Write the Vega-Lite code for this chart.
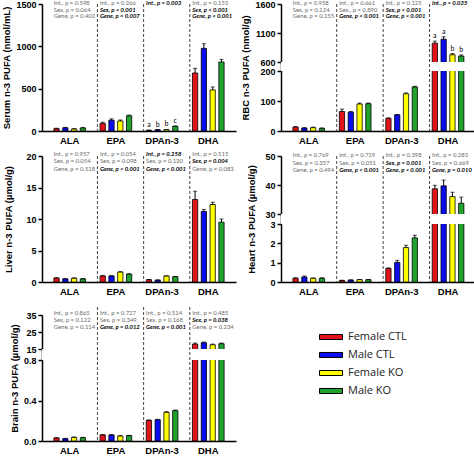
{
"$schema": "https://vega.github.io/schema/vega-lite/v6.json",
"padding": {"left": 1, "top": 0, "right": 0, "bottom": 0},
"datasets": {
"bars": [
{"p":"Serum","c":"ALA","g":"Female CTL","v":28,"hi":33},
{"p":"Serum","c":"ALA","g":"Male CTL","v":38,"hi":43},
{"p":"Serum","c":"ALA","g":"Female KO","v":24,"hi":28},
{"p":"Serum","c":"ALA","g":"Male KO","v":36,"hi":42},
{"p":"Serum","c":"EPA","g":"Female CTL","v":90,"hi":105},
{"p":"Serum","c":"EPA","g":"Male CTL","v":128,"hi":143},
{"p":"Serum","c":"EPA","g":"Female KO","v":118,"hi":130},
{"p":"Serum","c":"EPA","g":"Male KO","v":180,"hi":188},
{"p":"Serum","c":"DPAn-3","g":"Female CTL","v":8,"hi":10,"l":"a"},
{"p":"Serum","c":"DPAn-3","g":"Male CTL","v":15,"hi":17,"l":"b"},
{"p":"Serum","c":"DPAn-3","g":"Female KO","v":15,"hi":18,"l":"b"},
{"p":"Serum","c":"DPAn-3","g":"Male KO","v":55,"hi":60,"l":"c"},
{"p":"Serum","c":"DHA","g":"Female CTL","v":685,"hi":740},
{"p":"Serum","c":"DHA","g":"Male CTL","v":976,"hi":1031},
{"p":"Serum","c":"DHA","g":"Female KO","v":485,"hi":520},
{"p":"Serum","c":"DHA","g":"Male KO","v":815,"hi":846},
{"p":"RBC","c":"ALA","g":"Female CTL","v":13,"hi":15},
{"p":"RBC","c":"ALA","g":"Male CTL","v":10,"hi":11},
{"p":"RBC","c":"ALA","g":"Female KO","v":11,"hi":13},
{"p":"RBC","c":"ALA","g":"Male KO","v":9,"hi":10},
{"p":"RBC","c":"EPA","g":"Female CTL","v":65,"hi":73},
{"p":"RBC","c":"EPA","g":"Male CTL","v":63,"hi":65},
{"p":"RBC","c":"EPA","g":"Female KO","v":90,"hi":93},
{"p":"RBC","c":"EPA","g":"Male KO","v":91,"hi":93},
{"p":"RBC","c":"DPAn-3","g":"Female CTL","v":42,"hi":44},
{"p":"RBC","c":"DPAn-3","g":"Male CTL","v":54,"hi":55},
{"p":"RBC","c":"DPAn-3","g":"Female KO","v":124,"hi":127},
{"p":"RBC","c":"DPAn-3","g":"Male KO","v":147,"hi":149},
{"p":"RBC","c":"DHA","g":"Female CTL","v":924,"hi":960,"l":"a"},
{"p":"RBC","c":"DHA","g":"Male CTL","v":992,"hi":1035,"l":"a"},
{"p":"RBC","c":"DHA","g":"Female KO","v":725,"hi":745,"l":"b"},
{"p":"RBC","c":"DHA","g":"Male KO","v":702,"hi":722,"l":"b"},
{"p":"Liver","c":"ALA","g":"Female CTL","v":0.63,"hi":0.68},
{"p":"Liver","c":"ALA","g":"Male CTL","v":0.5,"hi":0.53},
{"p":"Liver","c":"ALA","g":"Female KO","v":0.6,"hi":0.65},
{"p":"Liver","c":"ALA","g":"Male KO","v":0.5,"hi":0.53},
{"p":"Liver","c":"EPA","g":"Female CTL","v":0.95,"hi":1.05},
{"p":"Liver","c":"EPA","g":"Male CTL","v":0.95,"hi":1.02},
{"p":"Liver","c":"EPA","g":"Female KO","v":1.58,"hi":1.63},
{"p":"Liver","c":"EPA","g":"Male KO","v":1.26,"hi":1.3},
{"p":"Liver","c":"DPAn-3","g":"Female CTL","v":0.37,"hi":0.4},
{"p":"Liver","c":"DPAn-3","g":"Male CTL","v":0.3,"hi":0.33},
{"p":"Liver","c":"DPAn-3","g":"Female KO","v":0.95,"hi":0.98},
{"p":"Liver","c":"DPAn-3","g":"Male KO","v":0.85,"hi":0.88},
{"p":"Liver","c":"DHA","g":"Female CTL","v":13.1,"hi":14.4},
{"p":"Liver","c":"DHA","g":"Male CTL","v":11.2,"hi":11.5},
{"p":"Liver","c":"DHA","g":"Female KO","v":12.3,"hi":12.65},
{"p":"Liver","c":"DHA","g":"Male KO","v":9.5,"hi":10.0},
{"p":"Heart","c":"ALA","g":"Female CTL","v":0.19,"hi":0.22},
{"p":"Heart","c":"ALA","g":"Male CTL","v":0.26,"hi":0.31},
{"p":"Heart","c":"ALA","g":"Female KO","v":0.19,"hi":0.21},
{"p":"Heart","c":"ALA","g":"Male KO","v":0.19,"hi":0.22},
{"p":"Heart","c":"EPA","g":"Female CTL","v":0.08,"hi":0.09},
{"p":"Heart","c":"EPA","g":"Male CTL","v":0.1,"hi":0.11},
{"p":"Heart","c":"EPA","g":"Female KO","v":0.12,"hi":0.13},
{"p":"Heart","c":"EPA","g":"Male KO","v":0.12,"hi":0.13},
{"p":"Heart","c":"DPAn-3","g":"Female CTL","v":0.7,"hi":0.73},
{"p":"Heart","c":"DPAn-3","g":"Male CTL","v":1.01,"hi":1.12},
{"p":"Heart","c":"DPAn-3","g":"Female KO","v":1.78,"hi":1.9},
{"p":"Heart","c":"DPAn-3","g":"Male KO","v":2.28,"hi":2.42},
{"p":"Heart","c":"DHA","g":"Female CTL","v":38.7,"hi":39.9},
{"p":"Heart","c":"DHA","g":"Male CTL","v":39.7,"hi":41.7},
{"p":"Heart","c":"DHA","g":"Female KO","v":36.0,"hi":37.5},
{"p":"Heart","c":"DHA","g":"Male KO","v":33.7,"hi":35.8},
{"p":"Brain","c":"ALA","g":"Female CTL","v":0.03,"hi":0.033},
{"p":"Brain","c":"ALA","g":"Male CTL","v":0.023,"hi":0.026},
{"p":"Brain","c":"ALA","g":"Female KO","v":0.036,"hi":0.039},
{"p":"Brain","c":"ALA","g":"Male KO","v":0.033,"hi":0.036},
{"p":"Brain","c":"EPA","g":"Female CTL","v":0.06,"hi":0.064},
{"p":"Brain","c":"EPA","g":"Male CTL","v":0.06,"hi":0.063},
{"p":"Brain","c":"EPA","g":"Female KO","v":0.05,"hi":0.053},
{"p":"Brain","c":"EPA","g":"Male KO","v":0.053,"hi":0.056},
{"p":"Brain","c":"DPAn-3","g":"Female CTL","v":0.204,"hi":0.208},
{"p":"Brain","c":"DPAn-3","g":"Male CTL","v":0.21,"hi":0.214},
{"p":"Brain","c":"DPAn-3","g":"Female KO","v":0.283,"hi":0.29},
{"p":"Brain","c":"DPAn-3","g":"Male KO","v":0.3,"hi":0.306},
{"p":"Brain","c":"DHA","g":"Female CTL","v":17.9,"hi":18.5},
{"p":"Brain","c":"DHA","g":"Male CTL","v":18.7,"hi":19.1},
{"p":"Brain","c":"DHA","g":"Female KO","v":17.5,"hi":17.9},
{"p":"Brain","c":"DHA","g":"Male KO","v":18.1,"hi":18.5}
],
"stats": [
{"p":"Serum","c":"ALA","line":0,"t":"Int., p = 0.598","sig":false},
{"p":"Serum","c":"ALA","line":1,"t":"Sex, p = 0.064","sig":false},
{"p":"Serum","c":"ALA","line":2,"t":"Gene, p = 0.402","sig":false},
{"p":"Serum","c":"EPA","line":0,"t":"Int., p = 0.266","sig":false},
{"p":"Serum","c":"EPA","line":1,"t":"Sex, p < 0.001","sig":true},
{"p":"Serum","c":"EPA","line":2,"t":"Gene, p = 0.007","sig":true},
{"p":"Serum","c":"DPAn-3","line":0,"t":"Int., p = 0.003","sig":true},
{"p":"Serum","c":"DHA","line":0,"t":"Int., p = 0.155","sig":false},
{"p":"Serum","c":"DHA","line":1,"t":"Sex, p < 0.001","sig":true},
{"p":"Serum","c":"DHA","line":2,"t":"Gene, p < 0.001","sig":true},
{"p":"RBC","c":"ALA","line":0,"t":"Int., p = 0.958","sig":false},
{"p":"RBC","c":"ALA","line":1,"t":"Sex, p = 0.124","sig":false},
{"p":"RBC","c":"ALA","line":2,"t":"Gene, p = 0.155","sig":false},
{"p":"RBC","c":"EPA","line":0,"t":"Int., p = 0.661","sig":false},
{"p":"RBC","c":"EPA","line":1,"t":"Sex., p = 0.890","sig":false},
{"p":"RBC","c":"EPA","line":2,"t":"Gene, p < 0.001","sig":true},
{"p":"RBC","c":"DPAn-3","line":0,"t":"Int., p = 0.125","sig":false},
{"p":"RBC","c":"DPAn-3","line":1,"t":"Sex, p < 0.001","sig":true},
{"p":"RBC","c":"DPAn-3","line":2,"t":"Gene, p < 0.001","sig":true},
{"p":"RBC","c":"DHA","line":0,"t":"Int., p = 0.035","sig":true},
{"p":"Liver","c":"ALA","line":0,"t":"Int., p = 0.957","sig":false},
{"p":"Liver","c":"ALA","line":1,"t":"Sex, p = 0.054","sig":false},
{"p":"Liver","c":"ALA","line":2,"t":"Gene, p = 0.518","sig":false},
{"p":"Liver","c":"EPA","line":0,"t":"Int., p = 0.054","sig":false},
{"p":"Liver","c":"EPA","line":1,"t":"Sex, p = 0.098","sig":false},
{"p":"Liver","c":"EPA","line":2,"t":"Gene, p < 0.001","sig":true},
{"p":"Liver","c":"DPAn-3","line":0,"t":"Int., p = 0.258","sig":true},
{"p":"Liver","c":"DPAn-3","line":1,"t":"Sex, p = 0.130","sig":false},
{"p":"Liver","c":"DPAn-3","line":2,"t":"Gene, p < 0.001","sig":true},
{"p":"Liver","c":"DHA","line":0,"t":"Int., p = 0.515","sig":false},
{"p":"Liver","c":"DHA","line":1,"t":"Sex, p = 0.004","sig":true},
{"p":"Liver","c":"DHA","line":2,"t":"Gene, p = 0.083","sig":false},
{"p":"Heart","c":"ALA","line":0,"t":"Int., p = 0.769","sig":false},
{"p":"Heart","c":"ALA","line":1,"t":"Sex, p = 0.357","sig":false},
{"p":"Heart","c":"ALA","line":2,"t":"Gene, p = 0.494","sig":false},
{"p":"Heart","c":"EPA","line":0,"t":"Int., p = 0.719","sig":false},
{"p":"Heart","c":"EPA","line":1,"t":"Sex, p = 0.051","sig":false},
{"p":"Heart","c":"EPA","line":2,"t":"Gene, p < 0.001","sig":true},
{"p":"Heart","c":"DPAn-3","line":0,"t":"Int., p = 0.398","sig":false},
{"p":"Heart","c":"DPAn-3","line":1,"t":"Sex, p = 0.001","sig":true},
{"p":"Heart","c":"DPAn-3","line":2,"t":"Gene, p < 0.001","sig":true},
{"p":"Heart","c":"DHA","line":0,"t":"Int., p = 0.285","sig":false},
{"p":"Heart","c":"DHA","line":1,"t":"Sex, p = 0.669","sig":false},
{"p":"Heart","c":"DHA","line":2,"t":"Gene, p = 0.010","sig":true},
{"p":"Brain","c":"ALA","line":0,"t":"Int., p = 0.865","sig":false},
{"p":"Brain","c":"ALA","line":1,"t":"Sex, p = 0.122","sig":false},
{"p":"Brain","c":"ALA","line":2,"t":"Gene, p = 0.114","sig":false},
{"p":"Brain","c":"EPA","line":0,"t":"Int., p = 0.727","sig":false},
{"p":"Brain","c":"EPA","line":1,"t":"Sex, p = 0.349","sig":false},
{"p":"Brain","c":"EPA","line":2,"t":"Gene, p = 0.012","sig":true},
{"p":"Brain","c":"DPAn-3","line":0,"t":"Int., p = 0.514","sig":false},
{"p":"Brain","c":"DPAn-3","line":1,"t":"Sex, p = 0.168","sig":false},
{"p":"Brain","c":"DPAn-3","line":2,"t":"Gene, p < 0.001","sig":true},
{"p":"Brain","c":"DHA","line":0,"t":"Int., p = 0.485","sig":false},
{"p":"Brain","c":"DHA","line":1,"t":"Sex, p = 0.038","sig":true},
{"p":"Brain","c":"DHA","line":2,"t":"Gene, p = 0.234","sig":false}
],
"seps": [{"c":"EPA"},{"c":"DPAn-3"},{"c":"DHA"}]
},
"columns": 2,
"spacing": {"row": 25, "column": 45},
"align": "each",
"bounds": "flush",
"resolve": {"scale": {"color": "independent"}, "legend": {"color": "independent"}},
"concat": [
{
"width": 194, "height": 127,
"layer": [
{"data":{"name":"bars"},"transform":[{"filter":"datum.p=='Serum'"}],"mark":{"type":"bar","stroke":"#000","strokeWidth":0.8},
 "encoding":{"x":{"field":"c","type":"nominal","scale":{"domain":["ALA","EPA","DPAn-3","DHA"]},"axis":{"title":null}},
 "xOffset":{"field":"g","type":"nominal","scale":{"domain":["Female CTL","Male CTL","Female KO","Male KO"]}},
 "y":{"field":"v","type":"quantitative","scale":{"domain":[0,1500],"nice":false},"axis":{"title":"Serum n-3 PUFA (nmol/mL)","values":[0,500,1000,1500],"format":"d","labelOverlap":false}},
 "color":{"field":"g","type":"nominal","scale":{"domain":["Female CTL","Male CTL","Female KO","Male KO"],"range":["#e3131b","#0b0bef","#ffff00","#1fa22e"]},"legend":null}}},
{"data":{"name":"seps"},"mark":{"type":"rule","strokeDash":[3,2],"color":"#444","strokeWidth":1},"encoding":{"x":{"field":"c","type":"nominal","bandPosition":0}}},
{"data":{"name":"bars"},"transform":[{"filter":"datum.p=='Serum'"}],"mark":{"type":"rule","color":"#000","strokeWidth":1},
 "encoding":{"x":{"field":"c","type":"nominal"},"xOffset":{"field":"g","type":"nominal"},"y":{"field":"v","type":"quantitative","axis":{"title":"Serum n-3 PUFA (nmol/mL)","values":[0,500,1000,1500],"format":"d","labelOverlap":false}},"y2":{"field":"hi"}}},
{"data":{"name":"bars"},"transform":[{"filter":"datum.p=='Serum'"}],"mark":{"type":"tick","orient":"horizontal","color":"#000","size":4,"thickness":1},
 "encoding":{"x":{"field":"c","type":"nominal"},"xOffset":{"field":"g","type":"nominal"},"y":{"field":"hi","type":"quantitative","axis":{"title":"Serum n-3 PUFA (nmol/mL)","values":[0,500,1000,1500],"format":"d","labelOverlap":false}}}},
{"data":{"name":"bars"},"transform":[{"filter":"datum.p=='Serum' && datum.l"}],"mark":{"type":"text","baseline":"bottom","dy":-2,"font":"Lato","fontSize":7,"color":"#000"},
 "encoding":{"x":{"field":"c","type":"nominal"},"xOffset":{"field":"g","type":"nominal"},"y":{"field":"hi","type":"quantitative","axis":{"title":"Serum n-3 PUFA (nmol/mL)","values":[0,500,1000,1500],"format":"d","labelOverlap":false}},"text":{"field":"l"}}},
{"data":{"name":"stats"},"transform":[{"filter":"datum.p=='Serum'"}],"mark":{"type":"text","align":"left","baseline":"middle","dx":2.5,"dy":{"expr":"datum.line*6.7-1"},"font":"Lato","fontSize":5.9,"fontWeight":{"expr":"datum.sig ? 'bold' : 'normal'"},"fontStyle":{"expr":"datum.sig ? 'italic' : 'normal'"}},
 "encoding":{"x":{"field":"c","type":"nominal","bandPosition":0},"y":{"datum":1500,"type":"quantitative","axis":{"title":"Serum n-3 PUFA (nmol/mL)","values":[0,500,1000,1500],"format":"d","labelOverlap":false}},"text":{"field":"t"},"color":{"condition":{"test":"datum.sig","value":"#000"},"value":"#6b6b6b"}}}
]
},
{
"width": 195, "height": 127,
"layer": [
{"data":{"name":"bars"},"transform":[{"filter":"datum.p=='RBC'"}],"mark":{"type":"bar","stroke":"#000","strokeWidth":0.8},
 "encoding":{"x":{"field":"c","type":"nominal","scale":{"domain":["ALA","EPA","DPAn-3","DHA"]},"axis":{"title":null}},
 "xOffset":{"field":"g","type":"nominal","scale":{"domain":["Female CTL","Male CTL","Female KO","Male KO"]}},
 "y":{"field":"v","type":"quantitative","scale":{"domain":[0,200,600,1600],"range":[127,67,58,0],"nice":false,"zero":false},"axis":{"title":"RBC n-3 PUFA (nmol/g)","values":[0,100,200,600,1100,1600],"format":"d","labelOverlap":false}},
 "color":{"field":"g","type":"nominal","scale":{"domain":["Female CTL","Male CTL","Female KO","Male KO"],"range":["#e3131b","#0b0bef","#ffff00","#1fa22e"]},"legend":null}}},
{"data":{"values":[{}]},"mark":{"type":"rect","color":"#ffffff"},"encoding":{"y":{"datum":200,"type":"quantitative","axis":{"title":"RBC n-3 PUFA (nmol/g)","values":[0,100,200,600,1100,1600],"format":"d","labelOverlap":false}},"y2":{"datum":600}}},
{"data":{"name":"seps"},"mark":{"type":"rule","strokeDash":[3,2],"color":"#444","strokeWidth":1},"encoding":{"x":{"field":"c","type":"nominal","bandPosition":0}}},
{"data":{"name":"bars"},"transform":[{"filter":"datum.p=='RBC'"}],"mark":{"type":"rule","color":"#000","strokeWidth":1},
 "encoding":{"x":{"field":"c","type":"nominal"},"xOffset":{"field":"g","type":"nominal"},"y":{"field":"v","type":"quantitative","axis":{"title":"RBC n-3 PUFA (nmol/g)","values":[0,100,200,600,1100,1600],"format":"d","labelOverlap":false}},"y2":{"field":"hi"}}},
{"data":{"name":"bars"},"transform":[{"filter":"datum.p=='RBC'"}],"mark":{"type":"tick","orient":"horizontal","color":"#000","size":4,"thickness":1},
 "encoding":{"x":{"field":"c","type":"nominal"},"xOffset":{"field":"g","type":"nominal"},"y":{"field":"hi","type":"quantitative","axis":{"title":"RBC n-3 PUFA (nmol/g)","values":[0,100,200,600,1100,1600],"format":"d","labelOverlap":false}}}},
{"data":{"name":"bars"},"transform":[{"filter":"datum.p=='RBC' && datum.l"}],"mark":{"type":"text","baseline":"bottom","dy":-2,"font":"Lato","fontSize":7,"color":"#000"},
 "encoding":{"x":{"field":"c","type":"nominal"},"xOffset":{"field":"g","type":"nominal"},"y":{"field":"hi","type":"quantitative","axis":{"title":"RBC n-3 PUFA (nmol/g)","values":[0,100,200,600,1100,1600],"format":"d","labelOverlap":false}},"text":{"field":"l"}}},
{"data":{"name":"stats"},"transform":[{"filter":"datum.p=='RBC'"}],"mark":{"type":"text","align":"left","baseline":"middle","dx":2.5,"dy":{"expr":"datum.line*6.7-1"},"font":"Lato","fontSize":5.9,"fontWeight":{"expr":"datum.sig ? 'bold' : 'normal'"},"fontStyle":{"expr":"datum.sig ? 'italic' : 'normal'"}},
 "encoding":{"x":{"field":"c","type":"nominal","bandPosition":0},"y":{"datum":1600,"type":"quantitative","axis":{"title":"RBC n-3 PUFA (nmol/g)","values":[0,100,200,600,1100,1600],"format":"d","labelOverlap":false}},"text":{"field":"t"},"color":{"condition":{"test":"datum.sig","value":"#000"},"value":"#6b6b6b"}}}
]
},
{
"width": 194, "height": 126,
"layer": [
{"data":{"name":"bars"},"transform":[{"filter":"datum.p=='Liver'"}],"mark":{"type":"bar","stroke":"#000","strokeWidth":0.8},
 "encoding":{"x":{"field":"c","type":"nominal","scale":{"domain":["ALA","EPA","DPAn-3","DHA"]},"axis":{"title":null}},
 "xOffset":{"field":"g","type":"nominal","scale":{"domain":["Female CTL","Male CTL","Female KO","Male KO"]}},
 "y":{"field":"v","type":"quantitative","scale":{"domain":[0,20],"nice":false},"axis":{"title":"Liver n-3 PUFA (µmol/g)","values":[0,5,10,15,20],"format":"d","labelOverlap":false,"titlePadding":12}},
 "color":{"field":"g","type":"nominal","scale":{"domain":["Female CTL","Male CTL","Female KO","Male KO"],"range":["#e3131b","#0b0bef","#ffff00","#1fa22e"]},"legend":null}}},
{"data":{"name":"seps"},"mark":{"type":"rule","strokeDash":[3,2],"color":"#444","strokeWidth":1},"encoding":{"x":{"field":"c","type":"nominal","bandPosition":0}}},
{"data":{"name":"bars"},"transform":[{"filter":"datum.p=='Liver'"}],"mark":{"type":"rule","color":"#000","strokeWidth":1},
 "encoding":{"x":{"field":"c","type":"nominal"},"xOffset":{"field":"g","type":"nominal"},"y":{"field":"v","type":"quantitative","axis":{"title":"Liver n-3 PUFA (µmol/g)","values":[0,5,10,15,20],"format":"d","labelOverlap":false,"titlePadding":12}},"y2":{"field":"hi"}}},
{"data":{"name":"bars"},"transform":[{"filter":"datum.p=='Liver'"}],"mark":{"type":"tick","orient":"horizontal","color":"#000","size":4,"thickness":1},
 "encoding":{"x":{"field":"c","type":"nominal"},"xOffset":{"field":"g","type":"nominal"},"y":{"field":"hi","type":"quantitative","axis":{"title":"Liver n-3 PUFA (µmol/g)","values":[0,5,10,15,20],"format":"d","labelOverlap":false,"titlePadding":12}}}},
{"data":{"name":"stats"},"transform":[{"filter":"datum.p=='Liver'"}],"mark":{"type":"text","align":"left","baseline":"middle","dx":2.5,"dy":{"expr":"datum.line*7.5-2.5"},"font":"Lato","fontSize":5.9,"fontWeight":{"expr":"datum.sig ? 'bold' : 'normal'"},"fontStyle":{"expr":"datum.sig ? 'italic' : 'normal'"}},
 "encoding":{"x":{"field":"c","type":"nominal","bandPosition":0},"y":{"datum":20,"type":"quantitative","axis":{"title":"Liver n-3 PUFA (µmol/g)","values":[0,5,10,15,20],"format":"d","labelOverlap":false,"titlePadding":12}},"text":{"field":"t"},"color":{"condition":{"test":"datum.sig","value":"#000"},"value":"#6b6b6b"}}}
]
},
{
"width": 195, "height": 126,
"layer": [
{"data":{"name":"bars"},"transform":[{"filter":"datum.p=='Heart'"}],"mark":{"type":"bar","stroke":"#000","strokeWidth":0.8},
 "encoding":{"x":{"field":"c","type":"nominal","scale":{"domain":["ALA","EPA","DPAn-3","DHA"]},"axis":{"title":null}},
 "xOffset":{"field":"g","type":"nominal","scale":{"domain":["Female CTL","Male CTL","Female KO","Male KO"]}},
 "y":{"field":"v","type":"quantitative","scale":{"domain":[0,3,30,50],"range":[126,68,58,0],"nice":false,"zero":false},"axis":{"title":"Heart n-3 PUFA (µmol/g)","values":[0,1,2,3,30,40,50],"format":"d","labelOverlap":false,"titlePadding":8}},
 "color":{"field":"g","type":"nominal","scale":{"domain":["Female CTL","Male CTL","Female KO","Male KO"],"range":["#e3131b","#0b0bef","#ffff00","#1fa22e"]},"legend":null}}},
{"data":{"values":[{}]},"mark":{"type":"rect","color":"#ffffff"},"encoding":{"y":{"datum":3,"type":"quantitative","axis":{"title":"Heart n-3 PUFA (µmol/g)","values":[0,1,2,3,30,40,50],"format":"d","labelOverlap":false,"titlePadding":8}},"y2":{"datum":30}}},
{"data":{"name":"seps"},"mark":{"type":"rule","strokeDash":[3,2],"color":"#444","strokeWidth":1},"encoding":{"x":{"field":"c","type":"nominal","bandPosition":0}}},
{"data":{"name":"bars"},"transform":[{"filter":"datum.p=='Heart'"}],"mark":{"type":"rule","color":"#000","strokeWidth":1},
 "encoding":{"x":{"field":"c","type":"nominal"},"xOffset":{"field":"g","type":"nominal"},"y":{"field":"v","type":"quantitative","axis":{"title":"Heart n-3 PUFA (µmol/g)","values":[0,1,2,3,30,40,50],"format":"d","labelOverlap":false,"titlePadding":8}},"y2":{"field":"hi"}}},
{"data":{"name":"bars"},"transform":[{"filter":"datum.p=='Heart'"}],"mark":{"type":"tick","orient":"horizontal","color":"#000","size":4,"thickness":1},
 "encoding":{"x":{"field":"c","type":"nominal"},"xOffset":{"field":"g","type":"nominal"},"y":{"field":"hi","type":"quantitative","axis":{"title":"Heart n-3 PUFA (µmol/g)","values":[0,1,2,3,30,40,50],"format":"d","labelOverlap":false,"titlePadding":8}}}},
{"data":{"name":"stats"},"transform":[{"filter":"datum.p=='Heart'"}],"mark":{"type":"text","align":"left","baseline":"middle","dx":2.5,"dy":{"expr":"datum.line*7.6-1"},"font":"Lato","fontSize":5.9,"fontWeight":{"expr":"datum.sig ? 'bold' : 'normal'"},"fontStyle":{"expr":"datum.sig ? 'italic' : 'normal'"}},
 "encoding":{"x":{"field":"c","type":"nominal","bandPosition":0},"y":{"datum":50,"type":"quantitative","axis":{"title":"Heart n-3 PUFA (µmol/g)","values":[0,1,2,3,30,40,50],"format":"d","labelOverlap":false,"titlePadding":8}},"text":{"field":"t"},"color":{"condition":{"test":"datum.sig","value":"#000"},"value":"#6b6b6b"}}}
]
},
{
"width": 194, "height": 134,
"layer": [
{"data":{"name":"bars"},"transform":[{"filter":"datum.p=='Brain'"}],"mark":{"type":"bar","stroke":"#000","strokeWidth":0.8},
 "encoding":{"x":{"field":"c","type":"nominal","scale":{"domain":["ALA","EPA","DPAn-3","DHA"]},"axis":{"title":null}},
 "xOffset":{"field":"g","type":"nominal","scale":{"domain":["Female CTL","Male CTL","Female KO","Male KO"]}},
 "y":{"field":"v","type":"quantitative","scale":{"domain":[0,0.8,15,35],"range":[134,53,42,8],"nice":false,"zero":false},"axis":{"title":"Brain n-3 PUFA (µmol/g)","values":[0,0.4,0.8,15,25,35],"labelOverlap":false,"labelExpr":"datum.value < 1 ? format(datum.value, '.1f') : format(datum.value, 'd')"}},
 "color":{"field":"g","type":"nominal","scale":{"domain":["Female CTL","Male CTL","Female KO","Male KO"],"range":["#e3131b","#0b0bef","#ffff00","#1fa22e"]},
  "legend":{"orient":"none","legendX":277,"legendY":18,"title":null,"symbolType":"M-1,-0.22H1V0.22H-1Z","symbolSize":529,"symbolStrokeColor":"#000","symbolStrokeWidth":1,"labelFont":"Open Sans","labelFontSize":11,"labelColor":"#222","rowPadding":1,"labelOffset":5}}}},
{"data":{"values":[{}]},"mark":{"type":"rect","color":"#ffffff"},"encoding":{"y":{"datum":0.8,"type":"quantitative","axis":{"title":"Brain n-3 PUFA (µmol/g)","values":[0,0.4,0.8,15,25,35],"labelOverlap":false,"labelExpr":"datum.value < 1 ? format(datum.value, '.1f') : format(datum.value, 'd')"}},"y2":{"datum":15}}},
{"data":{"name":"seps"},"mark":{"type":"rule","strokeDash":[3,2],"color":"#444","strokeWidth":1},"encoding":{"x":{"field":"c","type":"nominal","bandPosition":0}}},
{"data":{"name":"bars"},"transform":[{"filter":"datum.p=='Brain'"}],"mark":{"type":"rule","color":"#000","strokeWidth":1},
 "encoding":{"x":{"field":"c","type":"nominal"},"xOffset":{"field":"g","type":"nominal"},"y":{"field":"v","type":"quantitative","axis":{"title":"Brain n-3 PUFA (µmol/g)","values":[0,0.4,0.8,15,25,35],"labelOverlap":false,"labelExpr":"datum.value < 1 ? format(datum.value, '.1f') : format(datum.value, 'd')"}},"y2":{"field":"hi"}}},
{"data":{"name":"bars"},"transform":[{"filter":"datum.p=='Brain'"}],"mark":{"type":"tick","orient":"horizontal","color":"#000","size":4,"thickness":1},
 "encoding":{"x":{"field":"c","type":"nominal"},"xOffset":{"field":"g","type":"nominal"},"y":{"field":"hi","type":"quantitative","axis":{"title":"Brain n-3 PUFA (µmol/g)","values":[0,0.4,0.8,15,25,35],"labelOverlap":false,"labelExpr":"datum.value < 1 ? format(datum.value, '.1f') : format(datum.value, 'd')"}}}},
{"data":{"name":"stats"},"transform":[{"filter":"datum.p=='Brain'"}],"mark":{"type":"text","align":"left","baseline":"middle","dx":2.5,"dy":{"expr":"datum.line*7.3-2.5"},"font":"Lato","fontSize":5.9,"fontWeight":{"expr":"datum.sig ? 'bold' : 'normal'"},"fontStyle":{"expr":"datum.sig ? 'italic' : 'normal'"}},
 "encoding":{"x":{"field":"c","type":"nominal","bandPosition":0},"y":{"datum":35,"type":"quantitative","axis":{"title":"Brain n-3 PUFA (µmol/g)","values":[0,0.4,0.8,15,25,35],"labelOverlap":false,"labelExpr":"datum.value < 1 ? format(datum.value, '.1f') : format(datum.value, 'd')"}},"text":{"field":"t"},"color":{"condition":{"test":"datum.sig","value":"#000"},"value":"#6b6b6b"}}}
]
}
],
"config": {
 "view": {"stroke": null},
 "font": "Liberation Sans",
 "scale": {"bandPaddingInner": 0, "bandPaddingOuter": 0, "offsetBandPaddingInner": 0.4, "offsetBandPaddingOuter": 0.3},
 "axis": {"domainColor": "#000", "domainWidth": 1.5, "tickColor": "#000", "tickWidth": 1.5, "labelColor": "#000", "titleColor": "#000", "labelFont": "Liberation Sans", "titleFont": "Liberation Sans", "labelFontWeight": "bold", "titleFontWeight": "bold", "grid": false, "labelOverlap": false, "labelFlush": false, "labelBound": false},
 "axisX": {"ticks": false, "labelFontSize": 9.5, "labelPadding": 4, "labelAngle": 0, "domainColor": "#000"},
 "axisY": {"tickSize": 4, "labelFontSize": 9, "labelPadding": 2, "titleFontSize": 9.5, "titlePadding": 4, "domainColor": "#000"}
}
}
